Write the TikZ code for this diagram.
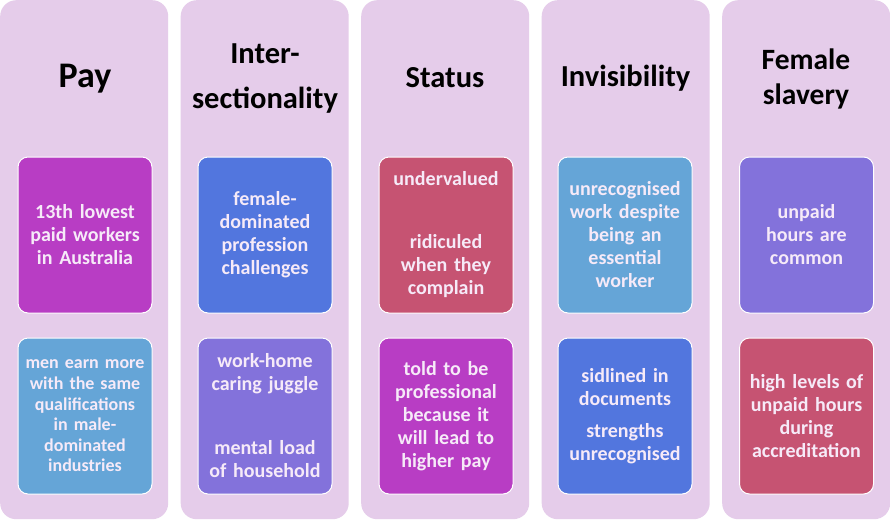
\documentclass[tikz,border=0pt]{standalone}
\usepackage{fontspec}
\setmainfont{Carlito}
\definecolor{colbg}{RGB}{229,204,234}
\definecolor{cmag}{RGB}{184,61,196}
\definecolor{csky}{RGB}{101,165,215}
\definecolor{croyal}{RGB}{82,118,222}
\definecolor{cpurp}{RGB}{131,114,219}
\definecolor{ccrim}{RGB}{198,83,114}
\definecolor{ctxt}{RGB}{246,234,248}
\begin{document}
\begin{tikzpicture}[x=1pt,y=-1pt,
  column/.style={fill=colbg, rounded corners=16pt, minimum width=168pt, minimum height=519pt, inner sep=0pt, anchor=north west},
  cardbox/.style={draw=white, line width=1pt, rounded corners=10pt, minimum width=134pt, minimum height=156pt, inner sep=0pt, align=center, text=ctxt, font=\fontsize{20}{23}\selectfont\bfseries, text width=132pt},
  smalltext/.style={font=\fontsize{18}{20.6}\selectfont\bfseries},
  title/.style={align=center, font=\fontsize{30.5}{45}\selectfont\bfseries, text=black, inner sep=0pt}]
\useasboundingbox (0,0) rectangle (890,520);
\fill[white] (0,0) rectangle (890,520);
% columns
\node[column] (c1) at (0,0) {};
\node[column] (c2) at (180.5,0) {};
\node[column] (c3) at (361,0) {};
\node[column] (c4) at (541.5,0) {};
\node[column] (c5) at (722,0) {};
% titles
\node[title, anchor=base, font=\fontsize{36}{40}\selectfont\bfseries] (t1) at (85,87) {Pay};
\node[title] (t2) at (265,78.5) {Inter-\\sectionality};
\node[title, anchor=base] (t3) at (445,87) {Status};
\node[title, anchor=base] (t4) at (625.5,86) {Invisibility};
\node[title, font=\fontsize{29.5}{35}\selectfont\bfseries] (t5) at (806,78.5) {Female\\slavery};
% cards row 1 (y 157-313)
\node[cardbox, fill=cmag] (b11) at (85,235) {13th lowest\\paid workers\\in Australia};
\node[cardbox, fill=croyal] (b21) at (265,235) {female-\\dominated\\profession\\challenges};
\node[cardbox, fill=ccrim] (b31) at (446,235) {undervalued\\[40pt]ridiculed\\when they\\complain};
\node[cardbox, fill=csky] (b41) at (625,235) {unrecognised\\work despite\\being an\\essential\\worker};
\node[cardbox, fill=cpurp] (b51) at (806.5,235) {unpaid\\hours are\\common};
% cards row 2 (y 338-494)
\node[cardbox, smalltext, fill=csky] (b12) at (85,416) {men earn more\\with the same\\qualifications\\in male-\\dominated\\industries};
\node[cardbox, fill=cpurp] (b22) at (265,416) {work-home\\caring juggle\\[41pt]mental load\\of household};
\node[cardbox, fill=cmag] (b32) at (446,416) {told to be\\professional\\because it\\will lead to\\higher pay};
\node[cardbox, fill=croyal] (b42) at (625,416) {sidlined in\\documents\\[9pt]strengths\\unrecognised};
\node[cardbox, fill=ccrim] (b52) at (806.5,416) {high levels of\\unpaid hours\\during\\accreditation};
\end{tikzpicture}
\end{document}
